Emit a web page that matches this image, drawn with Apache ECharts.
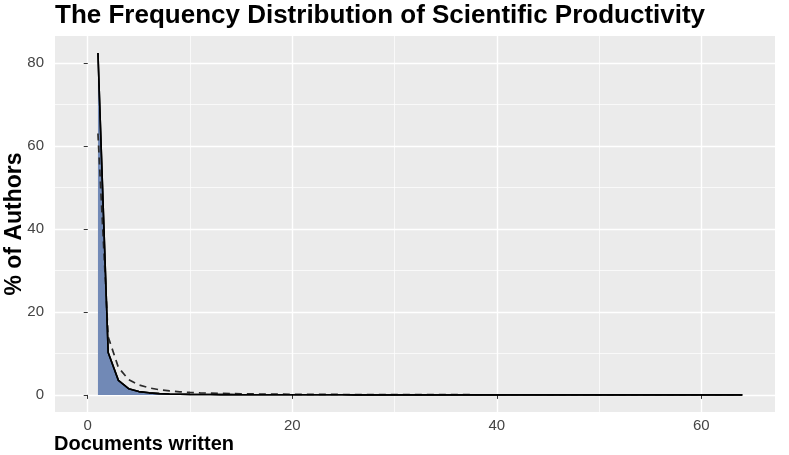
<!DOCTYPE html>
<html>
<head>
<meta charset="utf-8">
<script src="https://cdn.jsdelivr.net/npm/echarts@6/dist/echarts.min.js"></script>
<style>
html, body { margin: 0; background: #fff; }
#chart { width: 789px; height: 455px; }
</style>
</head>
<body>
<div id="chart"></div>
<script>
// documents written per author (x)
const docsWritten = [
  1, 2, 3, 4, 5, 6, 7, 8, 9, 10,
  11, 12, 13, 14, 15, 16, 17, 18, 19, 20,
  21, 22, 23, 24, 25, 26, 27, 28, 29, 30,
  31, 32, 33, 34, 35, 36, 37, 38, 39, 40,
  41, 42, 43, 44, 45, 46, 47, 48, 49, 50,
  51, 52, 53, 54, 55, 56, 57, 58, 59, 60,
  61, 62, 63, 64
];
// observed % of authors (solid line + fill)
const observedPct = [
  82.4, 10.2, 3.5, 1.5, 0.8, 0.5, 0.32, 0.22, 0.16, 0.12,
  0.1, 0.08, 0.07, 0.06, 0.05, 0.04, 0.04, 0.03, 0.03, 0.03,
  0.02, 0.02, 0.02, 0.02, 0.02, 0.01, 0.01, 0.01, 0.01, 0.01,
  0.01, 0.01, 0.01, 0.01, 0.01, 0.01, 0.01, 0.01, 0.01, 0.01,
  0.01, 0.01, 0.01, 0.01, 0.01, 0.01, 0.01, 0.01, 0.01, 0.01,
  0.01, 0.01, 0.01, 0.01, 0.01, 0.01, 0.01, 0.01, 0.01, 0.01,
  0.01, 0.01, 0.01, 0.01
];
// theoretical (Lotka) % of authors (dashed line)
const lotkaPct = [
  63.0, 14.0, 6.6, 3.7, 2.4, 1.7, 1.25, 0.95, 0.75, 0.6,
  0.5, 0.42, 0.36, 0.31, 0.27, 0.24, 0.21, 0.19, 0.17, 0.15,
  0.14, 0.13, 0.12, 0.11, 0.1, 0.09, 0.085, 0.08, 0.075, 0.07,
  0.065, 0.06, 0.057, 0.054, 0.051, 0.048, 0.045, 0.043, 0.041, 0.039,
  0.037, 0.035, 0.034, 0.032, 0.031, 0.03, 0.028, 0.027, 0.026, 0.025,
  0.024, 0.023, 0.022, 0.022, 0.021, 0.02, 0.02, 0.019, 0.018, 0.018,
  0.017, 0.017, 0.016, 0.015
];
const xTicks = [0, 20, 40, 60];
const xMinorTicks = [10, 30, 50];
const yTicks = [0, 20, 40, 60, 80];
const yMinorTicks = [10, 30, 50, 70];

const FONT = '"Liberation Sans", Arial, sans-serif';
const X_MIN = -3.2, X_MAX = 67.2;
const Y_MIN = -4.12, Y_MAX = 86.5;

function makeAxis(ticks, min, max, major, extra) {
  return Object.assign({
    type: 'value',
    min: min,
    max: max,
    axisLine: { show: false },
    axisTick: {
      show: major,
      customValues: ticks,
      length: 4,
      lineStyle: { color: '#333', width: 1 }
    },
    axisLabel: {
      show: major,
      customValues: ticks,
      color: '#444',
      fontFamily: FONT,
      fontSize: 15
    },
    splitLine: {
      show: true,
      lineStyle: { color: '#fff', width: major ? 1.4 : 0.7 }
    }
  }, extra || {});
}

const chart = echarts.init(document.getElementById('chart'));
chart.setOption({
  animation: false,
  title: [
    {
      text: 'The Frequency Distribution of Scientific Productivity',
      left: 50,
      top: -2,
      textStyle: { fontFamily: FONT, fontWeight: 'bold', fontSize: 26, color: '#000' }
    },
    {
      text: 'Documents written',
      left: 49,
      top: 429,
      textStyle: { fontFamily: FONT, fontWeight: 'bold', fontSize: 20, color: '#000' }
    }
  ],
  grid: {
    left: 55,
    right: 14,
    top: 36,
    bottom: 43,
    show: true,
    backgroundColor: '#ebebeb',
    borderWidth: 0,
    outerBoundsMode: 'none'
  },
  xAxis: [
    makeAxis(xTicks, X_MIN, X_MAX, true, { axisLabel: {
      customValues: xTicks, color: '#444', fontFamily: FONT, fontSize: 15, margin: 6 } }),
    makeAxis(xMinorTicks, X_MIN, X_MAX, false)
  ],
  yAxis: [
    makeAxis(yTicks, Y_MIN, Y_MAX, true, {
      name: '% of Authors',
      nameLocation: 'middle',
      nameGap: 29,
      nameMoveOverlap: false,
      nameTextStyle: { fontFamily: FONT, fontWeight: 'bold', fontSize: 23, color: '#000' },
      axisLabel: { customValues: yTicks, color: '#444', fontFamily: FONT, fontSize: 15, margin: 11 }
    }),
    makeAxis(yMinorTicks, Y_MIN, Y_MAX, false, { position: 'left' })
  ],
  series: [
    {
      name: 'Observed',
      type: 'line',
      data: docsWritten.map((d, i) => [d, observedPct[i]]),
      showSymbol: false,
      lineStyle: { color: '#000', width: 1.6 },
      areaStyle: { color: '#7189b6', opacity: 1 },
      z: 3
    },
    {
      name: 'Theoretical',
      type: 'line',
      data: docsWritten.map((d, i) => [d, lotkaPct[i]]),
      showSymbol: false,
      lineStyle: { color: '#2b2b2b', width: 1.7, type: [7, 5] },
      z: 4
    },
    {
      // solid line redrawn on top of the dashed one
      name: 'Observed line',
      type: 'line',
      data: docsWritten.map((d, i) => [d, observedPct[i]]),
      showSymbol: false,
      lineStyle: { color: '#000', width: 1.6 },
      z: 5
    }
  ]
});
</script>
</body>
</html>
